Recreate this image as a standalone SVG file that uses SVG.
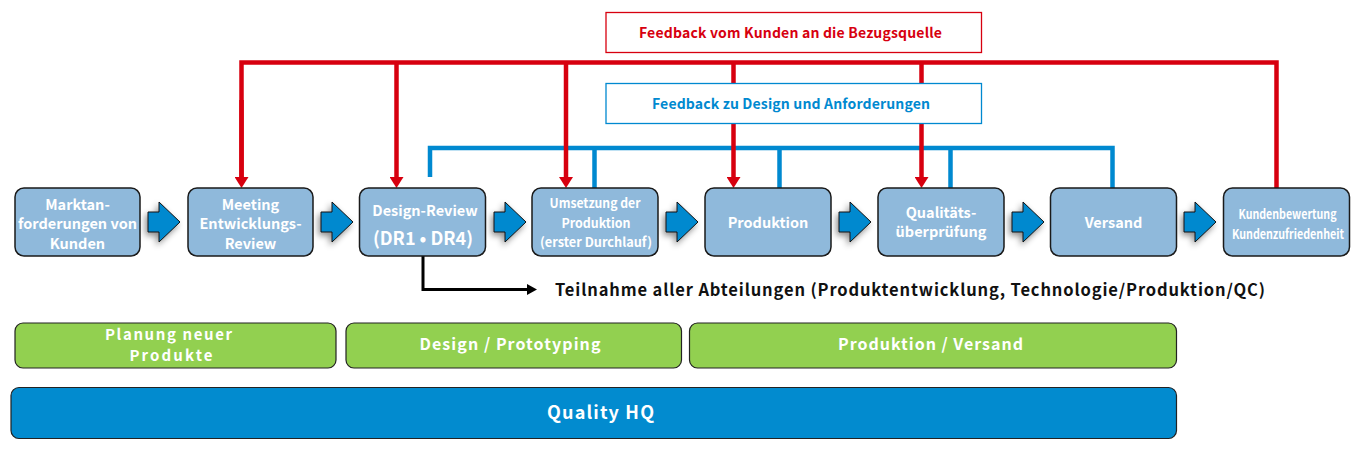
<svg xmlns="http://www.w3.org/2000/svg" width="1366" height="466" viewBox="0 0 1366 466">
<style>
text{font-family:"Noto Sans CJK JP","Noto Sans",sans-serif;font-weight:bold;text-anchor:middle;dominant-baseline:central}
.node rect{fill:#8fb9db;stroke:#1a1a1a;stroke-width:1.5}
.nt{fill:#ffffff;font-size:14.5px}
.st{fill:#ffffff;font-size:13px}
.blk{fill:#0089cf;stroke:#111;stroke-width:1;filter:url(#sh)}
.red{stroke:#d7000f;stroke-width:4.5;fill:none}
.blue{stroke:#0089d0;stroke-width:4.5;fill:none}
.bar rect{fill:#92d050;stroke:#222;stroke-width:1.2}
.bt{fill:#ffffff;font-size:16px}
.bt2{fill:#ffffff;font-size:15px}
</style>
<defs>
<filter id="sh" x="-50%" y="-50%" width="200%" height="200%">
<feDropShadow dx="-2" dy="3" stdDeviation="3" flood-color="#000" flood-opacity="0.45"/>
</filter>
<path id="ba" d="M0,-10 H11 V-20 L32,0 L11,20 V10 H0 Z"/>
<marker id="mr" markerUnits="userSpaceOnUse" markerWidth="11" markerHeight="14" refX="0" refY="7" orient="auto" viewBox="0 0 11 14"><path d="M0,0 L11,7 L0,14 Z" fill="#d7000f"/></marker>
<marker id="mb" markerUnits="userSpaceOnUse" markerWidth="11" markerHeight="14" refX="0" refY="7" orient="auto" viewBox="0 0 11 14"><path d="M0,0 L11,7 L0,14 Z" fill="#0089d0"/></marker>
<marker id="mk" markerUnits="userSpaceOnUse" markerWidth="10" markerHeight="11" refX="0" refY="5.5" orient="auto" viewBox="0 0 10 11"><path d="M0,0 L10,5.5 L0,11 Z" fill="#000"/></marker>
</defs>

<g id="connectors">
<path class="blue" d="M430,177 V148 H1112.5 V188" marker-end="url(#mb)"/>
<path class="blue" d="M594.5,148 V188 M779.5,148 V188 M950.5,148 V188"/>
<path class="red" d="M241.5,177 V62.5 H1276.5 V188"/>
<path class="red" d="M241.5,100 V177" marker-end="url(#mr)"/>
<path class="red" d="M396.5,62.5 V177" marker-end="url(#mr)"/>
<path class="red" d="M566,62.5 V177" marker-end="url(#mr)"/>
<path class="red" d="M733.5,62.5 V177" marker-end="url(#mr)"/>
<path class="red" d="M921.5,62.5 V177" marker-end="url(#mr)"/>
<path d="M423,256 V289.5 H527" stroke="#000" stroke-width="3" fill="none" marker-end="url(#mk)"/>
<use href="#ba" class="blk" x="148" y="222"/>
<use href="#ba" class="blk" x="321" y="222"/>
<use href="#ba" class="blk" x="494" y="222"/>
<use href="#ba" class="blk" x="666" y="222"/>
<use href="#ba" class="blk" x="839" y="222"/>
<use href="#ba" class="blk" x="1012" y="222"/>
<use href="#ba" class="blk" x="1184" y="222"/>
</g>

<g id="fb-kunde">
<rect x="606" y="12.5" width="375.5" height="40" fill="#fff" stroke="#d7000f" stroke-width="1.3"/>
<text x="790.5" y="32" fill="#d7000f" font-size="14px" textLength="303">Feedback vom Kunden an die Bezugsquelle</text>
</g>
<g id="fb-design">
<rect x="606" y="83.5" width="375.5" height="40" fill="#fff" stroke="#0089d0" stroke-width="1.3"/>
<text x="791" y="103" fill="#0089d0" font-size="14px" textLength="278">Feedback zu Design und Anforderungen</text>
</g>

<g id="n1" class="node"><rect x="15" y="188" width="125" height="68" rx="9"/>
<text class="nt" x="77.5" y="203">Marktan-</text><text class="nt" x="77.5" y="222.5">forderungen von</text><text class="nt" x="77.5" y="242">Kunden</text></g>
<g id="n2" class="node"><rect x="188" y="188" width="125" height="68" rx="9"/>
<text class="nt" x="250.5" y="203">Meeting</text><text class="nt" x="250.5" y="222.5">Entwicklungs-</text><text class="nt" x="250.5" y="242">Review</text></g>
<g id="n3" class="node"><rect x="359.5" y="188" width="126" height="68" rx="9"/>
<text class="nt" x="425" y="209">Design-Review</text><text x="423" y="236.5" fill="#fff" font-size="18px">(DR1 • DR4)</text></g>
<g id="n4" class="node"><rect x="532" y="188" width="126" height="68" rx="9"/>
<text class="st" x="595" y="202.5" textLength="91" lengthAdjust="spacingAndGlyphs">Umsetzung der</text><text class="st" x="596" y="222" textLength="69" lengthAdjust="spacingAndGlyphs">Produktion</text><text class="st" x="596" y="241.5" textLength="112" lengthAdjust="spacingAndGlyphs">(erster Durchlauf)</text></g>
<g id="n5" class="node"><rect x="705" y="188" width="126" height="68" rx="9"/>
<text class="nt" x="768" y="221.5">Produktion</text></g>
<g id="n6" class="node"><rect x="878" y="188" width="126" height="68" rx="9"/>
<text class="nt" x="941" y="211.5">Qualitäts-</text><text class="nt" x="941" y="230.5">überprüfung</text></g>
<g id="n7" class="node"><rect x="1050.5" y="188" width="126" height="68" rx="9"/>
<text class="nt" x="1113.5" y="221.5">Versand</text></g>
<g id="n8" class="node"><rect x="1223.5" y="188" width="126" height="68" rx="9"/>
<text class="st" x="1287.5" y="213" textLength="98" lengthAdjust="spacingAndGlyphs">Kundenbewertung</text><text class="st" x="1288" y="233" textLength="112" lengthAdjust="spacingAndGlyphs">Kundenzufriedenheit</text></g>

<g id="teilnahme">
<text x="555" y="289" fill="#111" font-size="16.5px" textLength="710" style="text-anchor:start">Teilnahme aller Abteilungen (Produktentwicklung, Technologie/Produktion/QC)</text>
</g>

<g id="bar1" class="bar"><rect x="15" y="323" width="321" height="45" rx="8"/>
<text class="bt2" x="168.5" y="333.5" textLength="127">Planung neuer</text><text class="bt2" x="171" y="354.5" textLength="83">Produkte</text></g>
<g id="bar2" class="bar"><rect x="346" y="323" width="335.5" height="45" rx="8"/>
<text class="bt" x="510" y="342.5" textLength="181">Design / Prototyping</text></g>
<g id="bar3" class="bar"><rect x="689.5" y="323" width="487" height="45" rx="8"/>
<text class="bt" x="930.5" y="342.5" textLength="185">Produktion / Versand</text></g>
<g id="quality"><rect x="11" y="387.5" width="1165.5" height="51" rx="8" fill="#028bcf" stroke="#222" stroke-width="1.2"/>
<text x="600.5" y="411" fill="#fff" font-size="18px" textLength="107">Quality HQ</text></g>
</svg>
